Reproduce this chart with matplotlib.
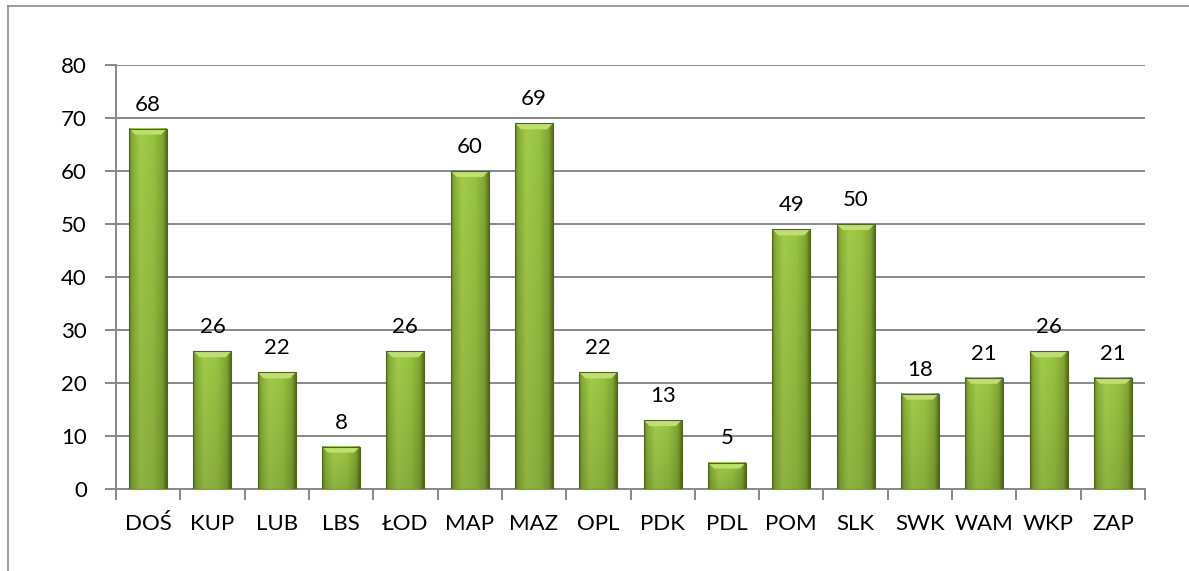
import numpy as np
import matplotlib
matplotlib.use("Agg")
import matplotlib.pyplot as plt
from matplotlib.colors import to_rgb
from matplotlib.patches import Polygon, Rectangle
from matplotlib.lines import Line2D

# data
regions = ["DOŚ", "KUP", "LUB", "LBS", "ŁOD", "MAP", "MAZ", "OPL",
           "PDK", "PDL", "POM", "SLK", "SWK", "WAM", "WKP", "ZAP"]
counts = [68, 26, 22, 8, 26, 60, 69, 22, 13, 5, 49, 50, 18, 21, 26, 21]
y_ticks = [0, 10, 20, 30, 40, 50, 60, 70, 80]

plt.rcParams["font.family"] = ["Lato", "DejaVu Sans"]

W, H = 1189, 571
fig = plt.figure(figsize=(W / 100, H / 100), dpi=100)
ax = fig.add_axes([116 / W, 82 / H, (1145 - 116) / W, (489 - 65) / H])

# outer chart frame (only top and left edges fall inside the picture)
fig.add_artist(Line2D([8 / W, 1.0], [1 - 6 / H, 1 - 6 / H], color="#8c8c8c", lw=1.2))
fig.add_artist(Line2D([8 / W, 8 / W], [0, 1 - 6 / H], color="#8c8c8c", lw=1.2))

x = np.arange(len(regions))
bar_w = 0.59

# horizontal colour profile of a bar (cylinder-ish shading)
stops = [(0.0, "#66852a"), (0.08, "#86ad36"), (0.3, "#a2cc4a"),
         (0.65, "#98c242"), (0.9, "#80a533"), (1.0, "#56711c")]
xs = np.linspace(0, 1, 60)
prof = np.array([np.interp(xs, [s[0] for s in stops],
                           [to_rgb(s[1])[c] for s in stops]) for c in range(3)]).T
vert = np.linspace(0.88, 1.0, 100)[:, None, None]
grad = np.clip(prof[None, :, :] * vert, 0, 1)

ymax = 80
px_x = (1145 - 116) / len(regions)      # pixels per x unit
px_y = (489 - 65) / ymax                # pixels per y unit
bev_x = 6 / px_x
bev_y = 6 / px_y

for xi, v in zip(x, counts):
    l, r = xi - bar_w / 2, xi + bar_w / 2
    ax.imshow(grad, extent=(l, r, 0, v), origin="lower",
              aspect="auto", interpolation="bicubic", zorder=3)
    # top bevel
    top = Polygon([(l, v), (r, v), (r - bev_x, v - bev_y), (l + bev_x, v - bev_y)],
                  closed=True, facecolor="#bfe06e", edgecolor="none", zorder=4)
    ax.add_patch(top)
    ax.add_patch(Rectangle((l, 0), bar_w, v, facecolor="none",
                           edgecolor="#4f6619", lw=0.8, zorder=5))
    ax.text(xi, v + 18 / px_y, str(v), ha="center", va="baseline",
            fontsize=16, color="#000000", zorder=6)

ax.set_xlim(-0.5, len(regions) - 0.5)
ax.set_ylim(0, ymax)
ax.set_yticks(y_ticks)
ax.set_yticklabels([str(t) for t in y_ticks], fontsize=16)
ax.set_xticks(x)
ax.set_xticklabels(regions, fontsize=16)
ax.set_xticks(np.arange(len(regions) + 1) - 0.5, minor=True)

ax.grid(axis="y", color="#888888", lw=1.4, zorder=1)
ax.set_axisbelow(True)
for s in ["top", "right"]:
    ax.spines[s].set_visible(False)
for s in ["left", "bottom"]:
    ax.spines[s].set_color("#888888")
    ax.spines[s].set_linewidth(1.4)

ax.tick_params(axis="x", which="major", length=0, pad=18)
ax.tick_params(axis="x", which="minor", length=8, width=1.4, color="#888888")
ax.tick_params(axis="y", length=8, width=1.4, color="#888888", pad=13)

fig.savefig("out.png", dpi=100)
